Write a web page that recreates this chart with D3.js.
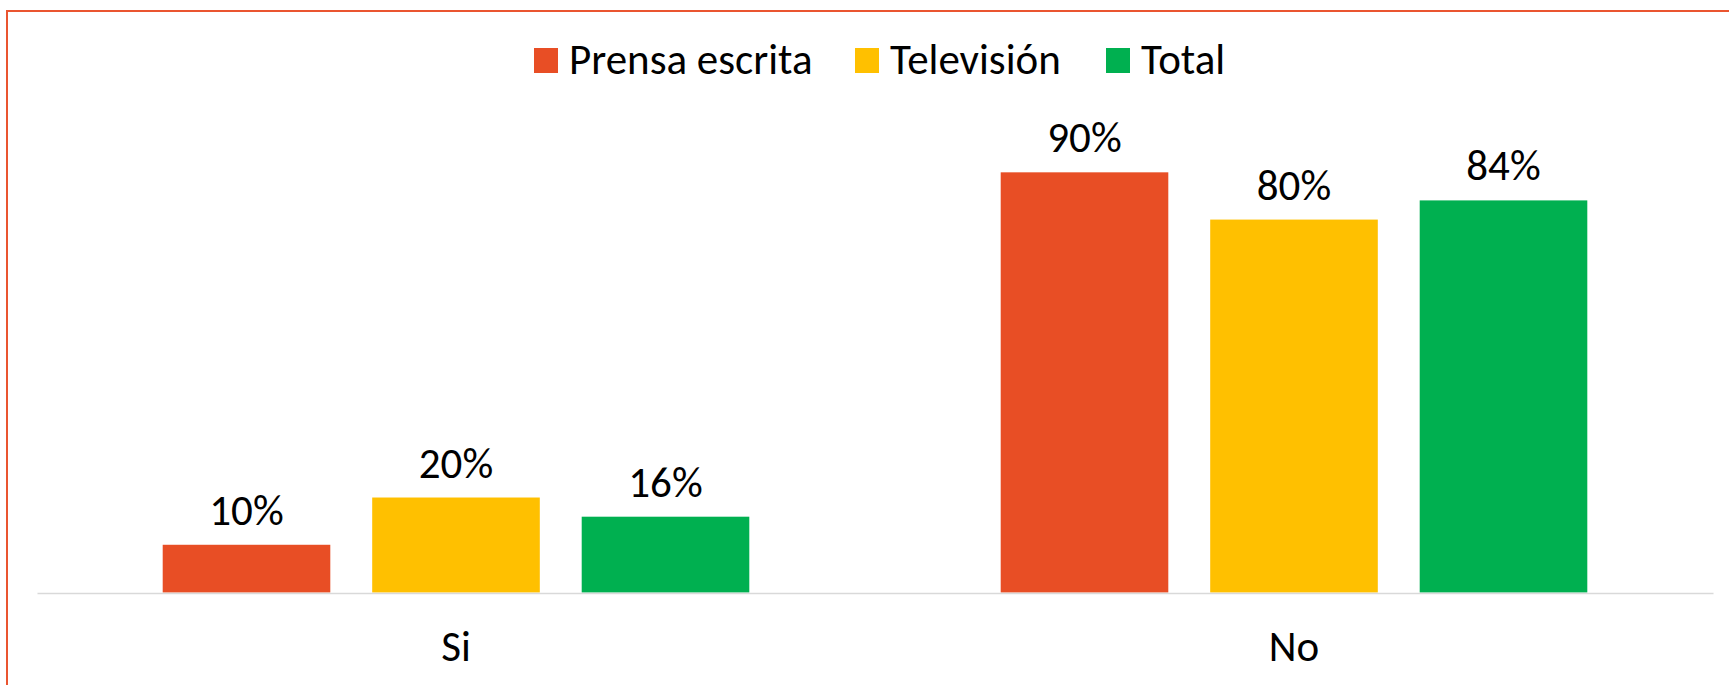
<!DOCTYPE html>
<html>
<head>
<meta charset="utf-8">
<script src="https://cdn.jsdelivr.net/npm/d3@7/dist/d3.min.js"></script>
<style>
  html, body { margin: 0; padding: 0; background: #ffffff; }
  svg { display: block; }
  text { font-family: Carlito, Lato, "Open Sans", sans-serif; fill: #000; }
</style>
</head>
<body>
<svg id="chart" width="1729" height="685"></svg>
<script>
const categories = ["Si", "No"];
const seriesNames = ["Prensa escrita", "Televisión", "Total"];
const prensaValues = [10.2, 89.8];
const televisionValues = [20.3, 79.7];
const totalValues = [16.2, 83.8];
const seriesColors = ["#E84E25", "#FFC000", "#00B050"];
const yDomain = [0, 100];

const seriesValues = [prensaValues, televisionValues, totalValues];

const svg = d3.select("#chart");
const W = 1729, H = 685;
const plot = { left: 37, right: 1713, top: 124.6, bottom: 592.5 };
const FONT = "43px";

// outer border (orange)
svg.append("path")
  .attr("d", `M7,${H + 2} V11 H${W + 2}`)
  .attr("fill", "none")
  .attr("stroke", "#EA5530")
  .attr("stroke-width", 2);

const x0 = d3.scaleBand().domain(categories).range([plot.left, plot.right]).paddingInner(0).paddingOuter(0);
const x1 = d3.scaleBand().domain(seriesNames).range([0, x0.bandwidth()]).paddingInner(0.2).paddingOuter(0.6);
const y = d3.scaleLinear().domain(yDomain).range([plot.bottom, plot.top]);

const data = [];
categories.forEach((c, ci) => {
  seriesNames.forEach((s, si) => {
    data.push({ cat: c, series: s, value: seriesValues[si][ci], color: seriesColors[si] });
  });
});

// bars
svg.append("g").selectAll("rect").data(data).join("rect")
  .attr("x", d => x0(d.cat) + x1(d.series))
  .attr("y", d => y(d.value))
  .attr("width", x1.bandwidth())
  .attr("height", d => y(0) - y(d.value))
  .attr("fill", d => d.color);

// axis line
const xAxis = d3.axisBottom(x0).tickSize(0).tickPadding(0);
const gx = svg.append("g").attr("transform", `translate(0,${y(0) + 0.5})`).call(xAxis);
gx.select(".domain").attr("stroke", "#D9D9D9").attr("stroke-width", 1.5);
gx.selectAll(".tick text")
  .attr("dy", null)
  .attr("y", 68)
  .style("font-family", "Carlito, Lato, 'Open Sans', sans-serif")
  .style("font-size", FONT)
  .attr("fill", "#000");

// data labels
svg.append("g").selectAll("text").data(data).join("text")
  .attr("x", d => x0(d.cat) + x1(d.series) + x1.bandwidth() / 2)
  .attr("y", d => y(d.value) - 20)
  .attr("text-anchor", "middle")
  .style("font-size", FONT)
  .text(d => Math.round(d.value) + "%");

// legend
const legendX = [534, 855, 1106];
const lg = svg.append("g");
seriesNames.forEach((s, i) => {
  lg.append("rect")
    .attr("x", legendX[i]).attr("y", 48)
    .attr("width", 24).attr("height", 25)
    .attr("fill", seriesColors[i]);
  lg.append("text")
    .attr("x", legendX[i] + 35).attr("y", 74)
    .style("font-size", FONT)
    .text(s);
});
</script>
</body>
</html>
